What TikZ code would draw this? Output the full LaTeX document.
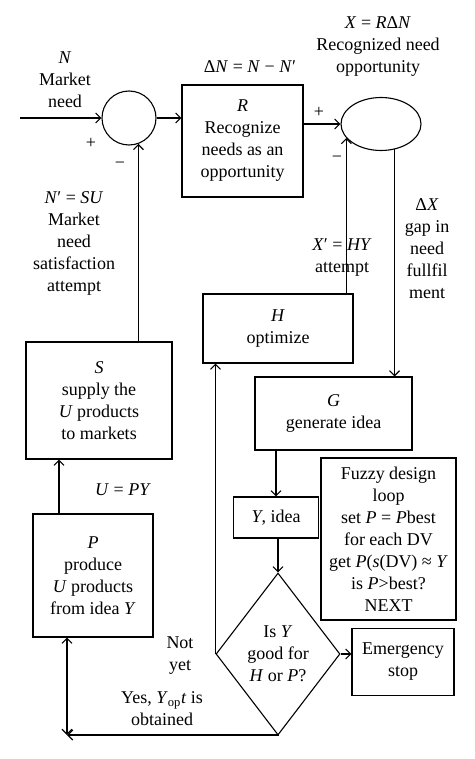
\documentclass[tikz,border=0pt]{standalone}
\usepackage{fontspec}
\setmainfont{Liberation Serif}
\usetikzlibrary{shapes.geometric,arrows.meta}
\begin{document}
\begin{tikzpicture}[x=1pt,y=-1pt,
  >={Straight Barb[length=5pt,width=10pt]},
  every node/.style={font=\fontsize{18}{22}\selectfont, align=center, inner sep=0pt},
  blk/.style={draw, line width=1.1pt},
  conn/.style={line width=1.1pt, ->},
  dconn/.style={line width=1.1pt, <->}]
\useasboundingbox (0,0) rectangle (474,759);
% blocks
\node[blk, circle, minimum size=54pt] (c1) at (129,118) {};
\node[blk, minimum width=121pt, minimum height=112pt] (R) at (242.5,141) {\textit{R}\\Recognize\\needs as an\\opportunity};
\node[blk, ellipse, minimum width=80pt, minimum height=53pt] (e2) at (381,124) {};
\node[blk, minimum width=146pt, minimum height=117pt] (S) at (99,400.5) {\textit{S}\\supply the\\\textit{U} products\\to markets};
\node[blk, minimum width=150pt, minimum height=69pt] (H) at (278,328.5) {\textit{H}\\optimize};
\node[blk, minimum width=157pt, minimum height=73pt] (G) at (333.5,413.5) {\textit{G}\\generate idea};
\node[blk, minimum width=85pt, minimum height=41pt] (Y) at (276,517.5) {\textit{Y}, idea};
\node[blk, minimum width=135pt, minimum height=162pt] (F) at (388.5,539) {Fuzzy design\\loop\\set \textit{P} = \textit{P}best\\for each DV\\get \textit{P}(\textit{s}(DV) ≈ \textit{Y}\\is \textit{P}>best?\\NEXT};
\node[blk, minimum width=120pt, minimum height=123pt] (P) at (93,575.5) {\textit{P}\\produce\\\textit{U} products\\from idea \textit{Y}};
\node[blk, diamond, aspect=0.765, minimum width=124pt, minimum height=162pt] (D) at (278,654) {Is \textit{Y}\\good for\\\textit{H} or \textit{P}?};
\node[blk, minimum width=102pt, minimum height=67pt] (E) at (403,662) {Emergency\\stop};
% labels
\node (lN) at (65,80) {\textit{N}\\Market\\need};
\node (p1) at (91,143) {+};
\node (m1) at (120,165) {−};
\node (dN) at (250,67) {Δ\textit{N} = \textit{N} − \textit{N}′};
\node (lX) at (378,47) {\textit{X} = \textit{R}Δ\textit{N}\\Recognized need\\opportunity};
\node (p2) at (319,112) {+};
\node (m2) at (337,159) {−};
\node (lNp) at (74,243) {\textit{N}′ = \textit{SU}\\Market\\need\\satisfaction\\attempt};
\node (lXp) at (342,258) {\textit{X}′ = \textit{HY}\\attempt};
\node (lDX) at (427,249) {Δ\textit{X}\\gap in\\need\\fullfil\\ment};
\node (lU) at (123,490) {\textit{U} = \textit{PY}};
\node (lNot) at (180,656) {Not\\yet};
\node (lYes) at (162,709) {Yes, \textit{Y}\textsubscript{op}\textit{t} is\\obtained};
% connectors
\coordinate (in) at (20,118);
\coordinate (cn) at (67,735);
\draw[conn] (in) -- (c1.west);
\draw[conn] (c1.east) -- (c1.east -| R.west);
\draw[conn] (e2.west -| R.east) -- (e2.west);
\draw[conn] (c1.-70 |- S.north) -- (c1.-70);
\draw[conn] (e2.202 |- H.north) -- (e2.202);
\draw[conn] (e2.-62) -- (e2.-62 |- G.north);
\draw[conn] (G.south -| Y.north) -- (Y.north);
\draw[conn] (Y.south -| D.north) -- (D.north);
\draw[conn] (D.west) -- (D.west |- H.south);
\draw[conn] (D.east) -- (D.east -| E.west);
\draw[conn] (D.south) -- (D.south |- cn) -- (cn);
\draw[dconn] (P.south -| cn) -- (cn);
\draw[conn] (P.north -| 59,0) -- (S.south -| 59,0);
\end{tikzpicture}
\end{document}
